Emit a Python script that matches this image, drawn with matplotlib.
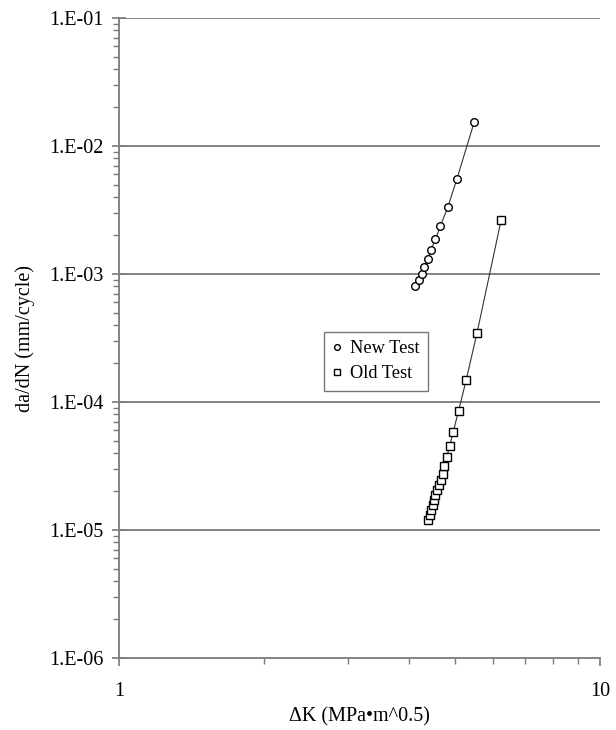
"""da/dN vs delta-K crack growth comparison, log-log."""
import numpy as np
import matplotlib
matplotlib.use("Agg")
import matplotlib.pyplot as plt
from matplotlib.ticker import FixedLocator, FuncFormatter, LogLocator, NullFormatter

new_dk = [4.13, 4.20, 4.26, 4.31, 4.38, 4.45, 4.55, 4.66, 4.83, 5.04, 5.48]
new_dadn = [8.06e-4, 8.97e-4, 1.00e-3, 1.13e-3, 1.30e-3, 1.54e-3, 1.87e-3,
            2.38e-3, 3.36e-3, 5.52e-3, 1.55e-2]

old_dk = [4.40, 4.43, 4.46, 4.49, 4.52, 4.55, 4.59, 4.63, 4.67, 4.71, 4.75,
          4.80, 4.87, 4.95, 5.08, 5.27, 5.55, 6.23]
old_dadn = [1.20e-5, 1.31e-5, 1.43e-5, 1.57e-5, 1.71e-5, 1.88e-5, 2.05e-5,
            2.25e-5, 2.48e-5, 2.74e-5, 3.16e-5, 3.72e-5, 4.53e-5, 5.8e-5,
            8.5e-5, 1.486e-4, 3.46e-4, 2.64e-3]

y_ticks = [1e-6, 1e-5, 1e-4, 1e-3, 1e-2, 1e-1]

plt.rcParams["font.family"] = ["Liberation Serif", "DejaVu Serif"]
plt.rcParams["font.size"] = 14.5

fig = plt.figure(figsize=(6.16, 7.3), dpi=100)
ax = fig.add_axes([0.1932, 0.0986, 0.974 - 0.1932, 0.9753 - 0.0986])
ax.set_xscale("log"); ax.set_yscale("log")
ax.set_xlim(1, 10); ax.set_ylim(1e-6, 1e-1)

gc = "#7a7a7a"
for v in y_ticks[1:]:
    ax.axhline(v, color=gc, lw=1.3, zorder=1)

# trend lines through the points
ax.plot(new_dk, new_dadn, color="#333333", lw=0.8, zorder=2)
ax.plot(old_dk, old_dadn, color="#333333", lw=0.8, zorder=2)
ax.plot(new_dk, new_dadn, ls="none", marker="o", ms=5.5, mfc="white",
        mec="black", mew=1.0, zorder=3, label="New Test")
ax.plot(old_dk, old_dadn, ls="none", marker="s", ms=5.5, mfc="white",
        mec="black", mew=1.0, zorder=3, label="Old Test")

for s in ["top", "right"]:
    ax.spines[s].set_visible(False)
for s in ["left", "bottom"]:
    ax.spines[s].set_color(gc); ax.spines[s].set_linewidth(1.3)

ax.yaxis.set_major_locator(FixedLocator(y_ticks))
ax.yaxis.set_major_formatter(FuncFormatter(lambda v, p: "1.E-%02d" % round(-np.log10(v))))
ax.yaxis.set_minor_locator(LogLocator(base=10, subs=np.arange(2, 10)))
ax.yaxis.set_minor_formatter(NullFormatter())
ax.xaxis.set_major_locator(FixedLocator([1, 10]))
ax.xaxis.set_major_formatter(FuncFormatter(lambda v, p: "%d" % v))
ax.xaxis.set_minor_locator(LogLocator(base=10, subs=np.arange(2, 10)))
ax.xaxis.set_minor_formatter(NullFormatter())

ax.tick_params(axis="y", which="major", direction="inout", length=10, width=1.2, color=gc, pad=6)
ax.tick_params(axis="y", which="minor", direction="out", length=4, width=1.0, color=gc)
ax.tick_params(axis="x", which="major", direction="out", length=6, width=1.2, color=gc, pad=11)
ax.tick_params(axis="x", which="minor", direction="out", length=4, width=1.0, color=gc)

ax.set_xlabel("ΔK (MPa•m^0.5)", labelpad=5)
ax.set_ylabel("da/dN (mm/cycle)", labelpad=10)

leg = ax.legend(loc="upper left", bbox_to_anchor=(0.408, 0.524), frameon=True,
                fancybox=False, edgecolor="#555555", fontsize=13.2,
                handlelength=0.5, handletextpad=0.45, borderpad=0.45,
                labelspacing=0.45, markerscale=0.75, borderaxespad=0.5)
leg.get_frame().set_linewidth(1.0)
leg._legend_box.sep = 3

fig.savefig("out.png", dpi=100)
